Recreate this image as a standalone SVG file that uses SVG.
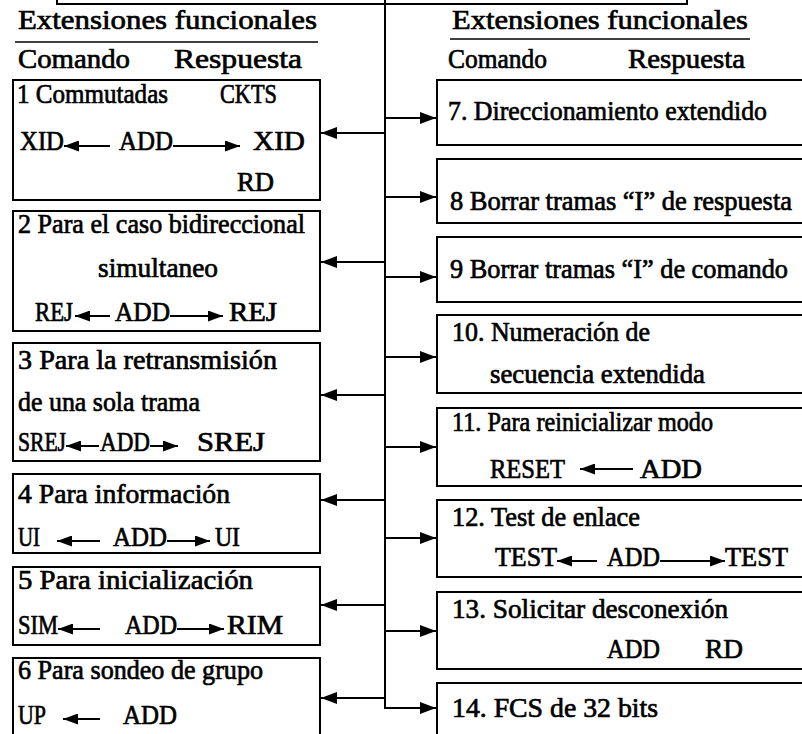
<svg xmlns="http://www.w3.org/2000/svg" width="802" height="734" viewBox="0 0 802 734">
  <style>
    .t { font-family: "Liberation Serif", "Times New Roman", Times, serif; font-size: 28px; fill: #000; stroke: #000; stroke-width: 0.7; }
    .box { fill: none; stroke: #000; stroke-width: 2; }
    .rule { stroke: #000; stroke-width: 1.6; fill: none; }
    .wire { stroke: #000; stroke-width: 2; fill: none; }
    .big { stroke: #000; stroke-width: 2; fill: none; marker-end: url(#headBig); }
    .small { stroke: #000; stroke-width: 2; fill: none; marker-end: url(#headSmall); }
  </style>
  <defs>
    <marker id="headBig" viewBox="0 0 16 12" refX="16" refY="6" markerWidth="16" markerHeight="12" markerUnits="userSpaceOnUse" orient="auto">
      <path d="M0,0 L16,6 L0,12 z" fill="#000"/>
    </marker>
    <marker id="headSmall" viewBox="0 0 15 11" refX="15" refY="5.5" markerWidth="15" markerHeight="11" markerUnits="userSpaceOnUse" orient="auto">
      <path d="M0,0 L15,5.5 L0,11 z" fill="#000"/>
    </marker>
  </defs>

  <rect x="0" y="0" width="802" height="734" fill="#fff"/>

  <!-- parent frame edge at the top -->
  <g id="frame-top">
    <path class="box" d="M57,0 V4 H687 V0"/>
  </g>

  <!-- column headers -->
  <g id="header-left">
    <text class="t" x="18" y="29" textLength="299" lengthAdjust="spacingAndGlyphs">Extensiones funcionales</text>
    <line class="rule" x1="15" y1="42" x2="318" y2="42"/>
    <text class="t" x="18" y="68" textLength="112" lengthAdjust="spacingAndGlyphs">Comando</text>
    <text class="t" x="174" y="68" textLength="128" lengthAdjust="spacingAndGlyphs">Respuesta</text>
  </g>
  <g id="header-right">
    <text class="t" x="452" y="29" textLength="296" lengthAdjust="spacingAndGlyphs">Extensiones funcionales</text>
    <line class="rule" x1="450" y1="39" x2="750" y2="39"/>
    <text class="t" x="448" y="68" textLength="99" lengthAdjust="spacingAndGlyphs">Comando</text>
    <text class="t" x="628" y="68" textLength="117" lengthAdjust="spacingAndGlyphs">Respuesta</text>
  </g>

  <!-- left column -->
  <g id="n1">
    <rect class="box" x="13" y="80" width="307" height="120"/>
    <text class="t" x="17" y="103" textLength="151" lengthAdjust="spacingAndGlyphs">1 Commutadas</text>
    <text class="t" x="220" y="103" textLength="57" lengthAdjust="spacingAndGlyphs">CKTS</text>
    <text class="t" x="20" y="150" textLength="44" lengthAdjust="spacingAndGlyphs">XID</text>
    <line class="small" x1="110" y1="146" x2="64" y2="146"/>
    <text class="t" x="119" y="150" textLength="54" lengthAdjust="spacingAndGlyphs">ADD</text>
    <line class="small" x1="173" y1="146" x2="240" y2="146"/>
    <text class="t" x="253" y="150" textLength="52" lengthAdjust="spacingAndGlyphs">XID</text>
    <text class="t" x="237" y="191" textLength="37" lengthAdjust="spacingAndGlyphs">RD</text>
  </g>
  <g id="n2">
    <rect class="box" x="13" y="211" width="307" height="120"/>
    <text class="t" x="18" y="233" textLength="287" lengthAdjust="spacingAndGlyphs">2 Para el caso bidireccional</text>
    <text class="t" x="98" y="277" textLength="120" lengthAdjust="spacingAndGlyphs">simultaneo</text>
    <text class="t" x="35" y="321" textLength="38" lengthAdjust="spacingAndGlyphs">REJ</text>
    <line class="small" x1="110" y1="316" x2="75" y2="316"/>
    <text class="t" x="115" y="321" textLength="55" lengthAdjust="spacingAndGlyphs">ADD</text>
    <line class="small" x1="170" y1="316" x2="223" y2="316"/>
    <text class="t" x="229" y="321" textLength="48" lengthAdjust="spacingAndGlyphs">REJ</text>
  </g>
  <g id="n3">
    <rect class="box" x="13" y="343" width="307" height="118"/>
    <text class="t" x="18" y="369" textLength="259" lengthAdjust="spacingAndGlyphs">3 Para la retransmisión</text>
    <text class="t" x="18" y="411" textLength="182" lengthAdjust="spacingAndGlyphs">de una sola trama</text>
    <text class="t" x="18" y="451" textLength="48" lengthAdjust="spacingAndGlyphs">SREJ</text>
    <line class="small" x1="99" y1="446" x2="66" y2="446"/>
    <text class="t" x="100" y="451" textLength="50" lengthAdjust="spacingAndGlyphs">ADD</text>
    <line class="small" x1="150" y1="446" x2="178" y2="446"/>
    <text class="t" x="197" y="451" textLength="68" lengthAdjust="spacingAndGlyphs">SREJ</text>
  </g>
  <g id="n4">
    <rect class="box" x="13" y="474" width="307" height="79"/>
    <text class="t" x="18" y="503" textLength="212" lengthAdjust="spacingAndGlyphs">4 Para información</text>
    <text class="t" x="18" y="546" textLength="22" lengthAdjust="spacingAndGlyphs">UI</text>
    <line class="small" x1="100" y1="541" x2="57" y2="541"/>
    <text class="t" x="113" y="546" textLength="54" lengthAdjust="spacingAndGlyphs">ADD</text>
    <line class="small" x1="167" y1="541" x2="210" y2="541"/>
    <text class="t" x="215" y="546" textLength="25" lengthAdjust="spacingAndGlyphs">UI</text>
  </g>
  <g id="n5">
    <rect class="box" x="13" y="567" width="307" height="78"/>
    <text class="t" x="18" y="589" textLength="235" lengthAdjust="spacingAndGlyphs">5 Para inicialización</text>
    <text class="t" x="18" y="634" textLength="40" lengthAdjust="spacingAndGlyphs">SIM</text>
    <line class="small" x1="100" y1="629" x2="58" y2="629"/>
    <text class="t" x="125" y="634" textLength="52" lengthAdjust="spacingAndGlyphs">ADD</text>
    <line class="small" x1="177" y1="629" x2="224" y2="629"/>
    <text class="t" x="227" y="634" textLength="56" lengthAdjust="spacingAndGlyphs">RIM</text>
  </g>
  <g id="n6">
    <path class="box" d="M13,740 V658 H320 V740"/>
    <text class="t" x="18" y="679" textLength="245" lengthAdjust="spacingAndGlyphs">6 Para sondeo de grupo</text>
    <text class="t" x="18" y="724" textLength="28" lengthAdjust="spacingAndGlyphs">UP</text>
    <line class="small" x1="100" y1="719" x2="63" y2="719"/>
    <text class="t" x="123" y="724" textLength="54" lengthAdjust="spacingAndGlyphs">ADD</text>
  </g>

  <!-- right column -->
  <g id="n7">
    <rect class="box" x="437" y="80" width="380" height="65"/>
    <text class="t" x="448" y="120" textLength="319" lengthAdjust="spacingAndGlyphs">7. Direccionamiento extendido</text>
  </g>
  <g id="n8">
    <rect class="box" x="437" y="159" width="380" height="64"/>
    <text class="t" x="450" y="210" textLength="342" lengthAdjust="spacingAndGlyphs">8 Borrar tramas “I” de respuesta</text>
  </g>
  <g id="n9">
    <rect class="box" x="437" y="237" width="380" height="65"/>
    <text class="t" x="450" y="278" textLength="338" lengthAdjust="spacingAndGlyphs">9 Borrar tramas “I” de comando</text>
  </g>
  <g id="n10">
    <rect class="box" x="437" y="315" width="380" height="78"/>
    <text class="t" x="452" y="341" textLength="198" lengthAdjust="spacingAndGlyphs">10. Numeración de</text>
    <text class="t" x="490" y="383" textLength="215" lengthAdjust="spacingAndGlyphs">secuencia extendida</text>
  </g>
  <g id="n11">
    <rect class="box" x="437" y="408" width="380" height="78"/>
    <text class="t" x="452" y="431" textLength="261" lengthAdjust="spacingAndGlyphs">11. Para reinicializar modo</text>
    <text class="t" x="490" y="478" textLength="75" lengthAdjust="spacingAndGlyphs">RESET</text>
    <line class="small" x1="633" y1="469" x2="580" y2="469"/>
    <text class="t" x="640" y="478" textLength="62" lengthAdjust="spacingAndGlyphs">ADD</text>
  </g>
  <g id="n12">
    <rect class="box" x="437" y="500" width="380" height="77"/>
    <text class="t" x="452" y="526" textLength="188" lengthAdjust="spacingAndGlyphs">12. Test de enlace</text>
    <text class="t" x="495" y="566" textLength="62" lengthAdjust="spacingAndGlyphs">TEST</text>
    <line class="small" x1="597" y1="561" x2="557" y2="561"/>
    <text class="t" x="607" y="566" textLength="53" lengthAdjust="spacingAndGlyphs">ADD</text>
    <line class="small" x1="660" y1="561" x2="725" y2="561"/>
    <text class="t" x="725" y="566" textLength="63" lengthAdjust="spacingAndGlyphs">TEST</text>
  </g>
  <g id="n13">
    <rect class="box" x="437" y="592" width="380" height="77"/>
    <text class="t" x="452" y="618" textLength="276" lengthAdjust="spacingAndGlyphs">13. Solicitar desconexión</text>
    <text class="t" x="607" y="658" textLength="53" lengthAdjust="spacingAndGlyphs">ADD</text>
    <text class="t" x="705" y="658" textLength="38" lengthAdjust="spacingAndGlyphs">RD</text>
  </g>
  <g id="n14">
    <path class="box" d="M437,740 V683 H817"/>
    <text class="t" x="452" y="717" textLength="206" lengthAdjust="spacingAndGlyphs">14. FCS de 32 bits</text>
  </g>

  <!-- distribution bus and branch arrows -->
  <g id="connectors">
    <line class="wire" x1="385" y1="0" x2="385" y2="708"/>
    <line class="big" x1="385" y1="133" x2="321" y2="133"/>
    <line class="big" x1="385" y1="262" x2="321" y2="262"/>
    <line class="big" x1="385" y1="395" x2="321" y2="395"/>
    <line class="big" x1="385" y1="500" x2="321" y2="500"/>
    <line class="big" x1="385" y1="605" x2="321" y2="605"/>
    <line class="big" x1="385" y1="698" x2="321" y2="698"/>
    <line class="big" x1="385" y1="118" x2="436" y2="118"/>
    <line class="big" x1="385" y1="197" x2="436" y2="197"/>
    <line class="big" x1="385" y1="277" x2="436" y2="277"/>
    <line class="big" x1="385" y1="357" x2="436" y2="357"/>
    <line class="big" x1="385" y1="447" x2="436" y2="447"/>
    <line class="big" x1="385" y1="538" x2="436" y2="538"/>
    <line class="big" x1="385" y1="631" x2="436" y2="631"/>
    <polyline class="big" points="385,707 385,708 436,708"/>
  </g>
</svg>
